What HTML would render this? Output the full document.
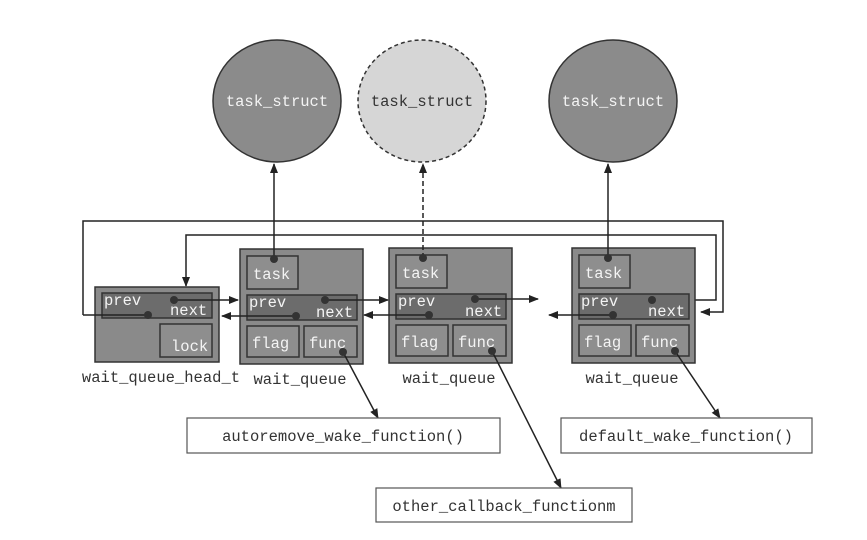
<!DOCTYPE html>
<html><head><meta charset="utf-8"><style>
html,body{margin:0;padding:0;background:#fff}
svg{display:block}
text{font-family:"Liberation Mono",monospace;font-size:15.5px}
.w{fill:#f4f4f4}
.k{fill:#333}
</style></head><body>
<svg width="867" height="540" viewBox="0 0 867 540" xmlns="http://www.w3.org/2000/svg">
<defs>
<marker id="a" markerWidth="10" markerHeight="8" refX="9" refY="4" orient="auto" markerUnits="userSpaceOnUse">
<path d="M0,0 L10,4 L0,8 z" fill="#222"/></marker>
</defs>
<ellipse cx="277" cy="101" rx="64" ry="61" fill="#8b8b8b" stroke="#333" stroke-width="1.5"/>
<ellipse cx="422" cy="101" rx="64" ry="61" fill="#d6d6d6" stroke="#333" stroke-width="1.5" stroke-dasharray="4,3"/>
<ellipse cx="613" cy="101" rx="64" ry="61" fill="#8b8b8b" stroke="#333" stroke-width="1.5"/>
<text x="277" y="106" text-anchor="middle" class="w">task_struct</text>
<text x="422" y="106" text-anchor="middle" fill="#333">task_struct</text>
<text x="613" y="106" text-anchor="middle" class="w">task_struct</text>

<polyline points="83,315 83,221 723,221 723,312 701,312" fill="none" stroke="#222" stroke-width="1.5" marker-end="url(#a)"/>
<polyline points="652,300 716,300 716,235 186,235 186,286" fill="none" stroke="#222" stroke-width="1.5" marker-end="url(#a)"/>

<rect x="95" y="287" width="124" height="75" fill="#8a8a8a" stroke="#333" stroke-width="1.5"/>
<rect x="102" y="293" width="110" height="25" fill="#6c6c6c" stroke="#333" stroke-width="1.5"/>
<rect x="160" y="324" width="52" height="33" fill="#8e8e8e" stroke="#333" stroke-width="1.5"/>
<text x="104" y="305" class="w">prev</text><text x="170" y="315" class="w">next</text>
<text x="171" y="351" class="w">lock</text>
<text x="161" y="382" text-anchor="middle" fill="#333">wait_queue_head_t</text>

<g id="n1">
<rect x="240" y="249" width="123" height="115" fill="#8a8a8a" stroke="#333" stroke-width="1.5"/>
<rect x="247" y="256" width="51" height="33" fill="#8e8e8e" stroke="#333" stroke-width="1.5"/>
<rect x="247" y="295" width="110" height="25" fill="#6c6c6c" stroke="#333" stroke-width="1.5"/>
<rect x="247" y="326" width="52" height="31" fill="#8e8e8e" stroke="#333" stroke-width="1.5"/>
<rect x="304" y="326" width="53" height="31" fill="#8e8e8e" stroke="#333" stroke-width="1.5"/>
<text x="253" y="279" class="w">task</text>
<text x="249" y="307" class="w">prev</text><text x="316" y="317" class="w">next</text>
<text x="252" y="348" class="w">flag</text><text x="309" y="348" class="w">func</text>
<text x="300" y="384" text-anchor="middle" fill="#333">wait_queue</text>
</g>
<use href="#n1" x="149" y="-1"/>
<use href="#n1" x="332" y="-1"/>

<line x1="274" y1="259" x2="274" y2="164" stroke="#222" stroke-width="1.5" marker-end="url(#a)"/>
<line x1="423" y1="258" x2="423" y2="164" stroke="#222" stroke-width="1.5" stroke-dasharray="5,3" marker-end="url(#a)"/>
<line x1="608" y1="258" x2="608" y2="164" stroke="#222" stroke-width="1.5" marker-end="url(#a)"/>

<line x1="174" y1="300" x2="238" y2="300" stroke="#222" stroke-width="1.5" marker-end="url(#a)"/>
<line x1="325" y1="300" x2="388" y2="300" stroke="#222" stroke-width="1.5" marker-end="url(#a)"/>
<line x1="475" y1="299" x2="538" y2="299" stroke="#222" stroke-width="1.5" marker-end="url(#a)"/>
<line x1="148" y1="315" x2="83" y2="315" stroke="#222" stroke-width="1.5"/>
<line x1="296" y1="316" x2="222" y2="316" stroke="#222" stroke-width="1.5" marker-end="url(#a)"/>
<line x1="429" y1="315" x2="364" y2="315" stroke="#222" stroke-width="1.5" marker-end="url(#a)"/>
<line x1="613" y1="315" x2="549" y2="315" stroke="#222" stroke-width="1.5" marker-end="url(#a)"/>

<line x1="343" y1="352" x2="378" y2="418" stroke="#222" stroke-width="1.5" marker-end="url(#a)"/>
<line x1="492" y1="351" x2="561" y2="488" stroke="#222" stroke-width="1.5" marker-end="url(#a)"/>
<line x1="675" y1="351" x2="720" y2="418" stroke="#222" stroke-width="1.5" marker-end="url(#a)"/>

<g class="k">
<circle cx="174" cy="300" r="4"/><circle cx="148" cy="315" r="4"/>
<circle cx="274" cy="259" r="4"/><circle cx="325" cy="300" r="4"/><circle cx="296" cy="316" r="4"/><circle cx="343" cy="352" r="4"/>
<circle cx="423" cy="258" r="4"/><circle cx="475" cy="299" r="4"/><circle cx="429" cy="315" r="4"/><circle cx="492" cy="351" r="4"/>
<circle cx="608" cy="258" r="4"/><circle cx="652" cy="300" r="4"/><circle cx="613" cy="315" r="4"/><circle cx="675" cy="351" r="4"/>
</g>

<rect x="187" y="418" width="313" height="35" fill="#fff" stroke="#555" stroke-width="1.2"/>
<text x="343" y="441" text-anchor="middle" fill="#333">autoremove_wake_function()</text>
<rect x="561" y="418" width="251" height="35" fill="#fff" stroke="#555" stroke-width="1.2"/>
<text x="686" y="441" text-anchor="middle" fill="#333">default_wake_function()</text>
<rect x="376" y="488" width="256" height="34" fill="#fff" stroke="#555" stroke-width="1.2"/>
<text x="504" y="511" text-anchor="middle" fill="#333">other_callback_functionm</text>
</svg>
</body></html>
